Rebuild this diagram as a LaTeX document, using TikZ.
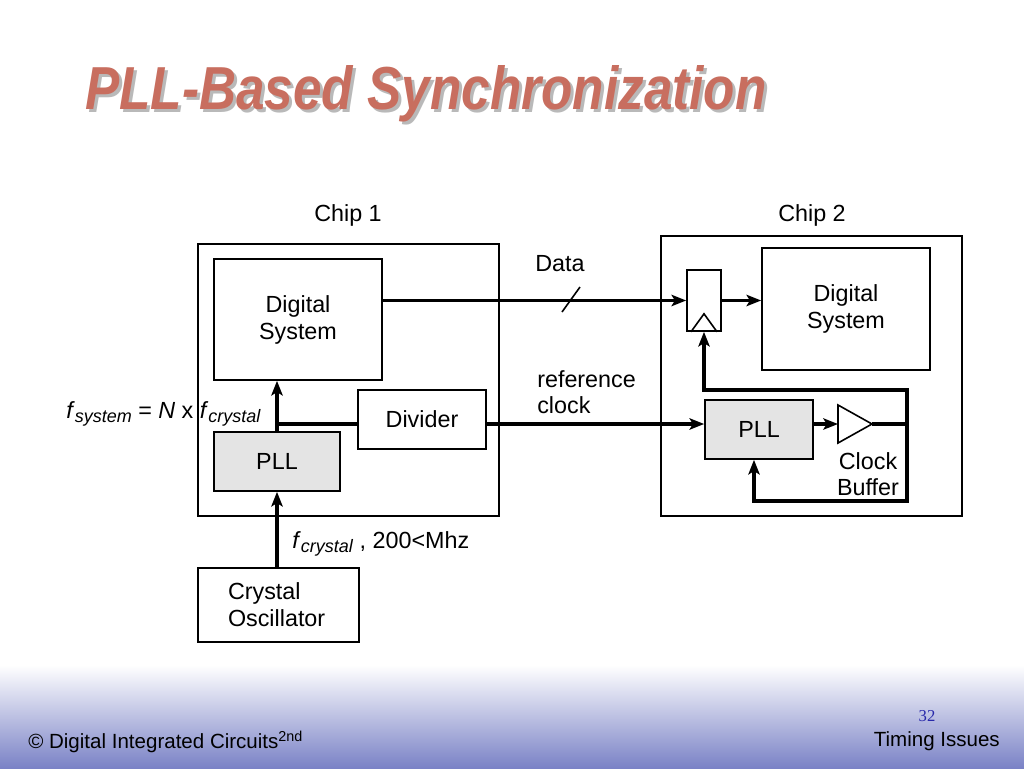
\documentclass[tikz,border=0pt]{standalone}
\usepackage{fontspec}
\setmainfont{Liberation Sans}
\newfontfamily\seriffont{Liberation Serif}
\usetikzlibrary{arrows.meta}
\definecolor{titlered}{RGB}{200,110,95}
\definecolor{shadowgray}{RGB}{185,185,185}
\definecolor{pllgray}{RGB}{228,228,228}
\definecolor{footblue}{RGB}{122,130,198}
\definecolor{pagenum}{RGB}{40,40,170}
\begin{document}
\begin{tikzpicture}[x=0.75pt,y=-0.75pt,
  box/.style={draw, line width=1.2pt, inner sep=0pt, align=center, font=\fontsize{17.5}{20.25}\selectfont},
  chip/.style={draw, line width=1pt, inner sep=0pt},
  grey/.style={fill=pllgray},
  conn/.style={line width=2.7pt, -{Stealth[length=11pt,width=8.5pt,inset=2.5pt]}},
  wire/.style={line width=2.7pt},
  fine/.style={line width=1.2pt},
  lbl/.style={font=\fontsize{17.5}{19.5}\selectfont, inner sep=0pt},
  foot/.style={font=\fontsize{15.4}{18}\selectfont, inner sep=0pt}]
\useasboundingbox (0,0) rectangle (1024,768);
\fill[white] (0,0) rectangle (1024,768);
% footer band
\shade[top color=white, bottom color=footblue] (0,665) rectangle (1024,768);

% title
\node[anchor=base west, inner sep=0pt, text=shadowgray] (titleshadow) at (88,112)
  {\resizebox{511pt}{33pt}{\bfseries\itshape PLL-Based Synchronization}};
\node[anchor=base west, inner sep=0pt, text=titlered] (title) at (85,109)
  {\resizebox{511pt}{33pt}{\bfseries\itshape PLL-Based Synchronization}};

% chips
\node[chip, minimum width=225.75pt, minimum height=204pt] (chip1) at (348.5,380) {};
\node[chip, minimum width=225.75pt, minimum height=210pt] (chip2) at (811.5,376) {};
\node[lbl] (chip1lbl) at (348,215) {Chip 1};
\node[lbl] (chip2lbl) at (812,215) {Chip 2};

% chip 1 blocks
\node[box, minimum width=126pt, minimum height=90.75pt] (ds1) at (298,319.5) {Digital\\System};
\node[box, minimum width=96pt, minimum height=44.25pt] (div) at (422,419.5) {Divider};
\node[box, grey, minimum width=94.5pt, minimum height=44.25pt] (pll1) at (277,461.5) {PLL};
\node[box, align=left, text width=75.75pt, inner xsep=22.5pt, minimum height=55.5pt] (crys) at (278.5,605) {Crystal\\Oscillator};

% chip 2 blocks
\node[box, minimum width=25.5pt, minimum height=45.75pt] (ff) at (704,300.5) {};
\node[box, minimum width=126pt, minimum height=91.5pt] (ds2) at (846,309) {Digital\\System};
\node[box, grey, minimum width=81pt, minimum height=44.25pt] (pll2) at (759,429.5) {PLL};
\draw[fine] ([xshift=-9.75pt]ff.south) -- ([yshift=13.5pt]ff.south) -- ([xshift=9.75pt]ff.south);
\coordinate (bufin) at (838,424);
\coordinate (bufout) at (872,424);
\draw[fine, line join=miter] (838,405) -- (bufout) -- (838,443) -- cycle;

% helper coordinates
\coordinate (refy) at (0,424);
\coordinate (tap1) at (907,390);
\coordinate (tapm) at (907,424);
\coordinate (tap2) at (907,501);

% connectors chip 1
\draw[conn] (crys.north -| pll1.south) -- (pll1.south);
\draw[conn] (pll1.north) -- (pll1.north |- ds1.south);
\draw[wire] (pll1.north |- refy) -- (div.west |- refy);
\draw[conn] (div.east |- refy) -- (pll2.west |- refy);
\draw[conn] (ds1.east |- ff.west) -- (ff.west);
\draw[fine] (562,312) -- (580,287);

% connectors chip 2
\draw[conn] (ff.east) -- (ff.east -| ds2.west);
\draw[conn] (pll2.east |- refy) -- (bufin);
\draw[wire] (bufout) -- (tapm);
\draw[wire, line cap=rect] (tap1) -- (tap2);
\draw[conn, line join=miter] (tap1) -| (ff.south);
\draw[conn, line join=miter] (tap2) -| ([xshift=-3.75pt]pll2.south);

% labels
\node[lbl] (datalbl) at (560,264) {Data};
\node[lbl, anchor=west, align=left] (reflbl) at (537,392) {reference\\clock};
\node[lbl, align=center] (buflbl) at (868,474) {Clock\\Buffer};
\node[lbl, anchor=base west] (fsys) at (66,418)
  {\textit{f}\raisebox{-0.35ex}{\fontsize{13.5}{15}\selectfont\textit{system}} = \textit{N} x \textit{f}\raisebox{-0.35ex}{\fontsize{13.5}{15}\selectfont\textit{crystal}}};
\node[lbl, anchor=base west] (fcry) at (292,548)
  {\textit{f}\raisebox{-0.35ex}{\fontsize{13.5}{15}\selectfont\textit{crystal}} , 200<Mhz};

% footer texts
\node[foot, anchor=base west] (copy) at (28,748) {© Digital Integrated Circuits\textsuperscript{2nd}};
\node[foot, anchor=base east] (topic) at (1000,746) {Timing Issues};
\node[inner sep=0pt, text=pagenum, font=\seriffont\fontsize{12.5}{14}\selectfont] (pnum) at (927,716) {32};
\end{tikzpicture}
\end{document}
